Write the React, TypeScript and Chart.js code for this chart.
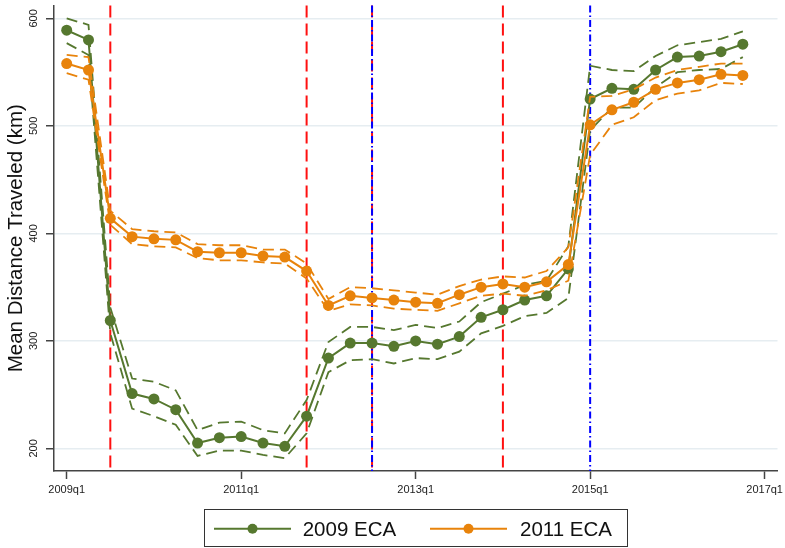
import React, { useEffect, useRef } from "react";
import { Chart, registerables } from "chart.js";

Chart.register(...registerables);

// Quarterly observation periods
const quarters = [
  "2009q1", "2009q2", "2009q3", "2009q4",
  "2010q1", "2010q2", "2010q3", "2010q4",
  "2011q1", "2011q2", "2011q3", "2011q4",
  "2012q1", "2012q2", "2012q3", "2012q4",
  "2013q1", "2013q2", "2013q3", "2013q4",
  "2014q1", "2014q2", "2014q3", "2014q4",
  "2015q1", "2015q2", "2015q3", "2015q4",
  "2016q1", "2016q2", "2016q3", "2016q4",
];

const xTickLabels = ["2009q1", "2011q1", "2013q1", "2015q1", "2017q1"];
const yTickValues = [200, 300, 400, 500, 600];

// 2009 ECA: mean distance and confidence bounds (km)
const eca2009 = [589, 580, 319, 251, 246, 236, 205, 210, 211, 205, 202, 230, 284, 298, 298, 295,
  300, 297, 304, 322, 329, 338, 342, 367, 525, 535, 534, 552, 564, 565, 569, 576];
const eca2009Upper = [600, 594, 331, 265, 262, 254, 217, 224, 225, 217, 214, 245, 299, 313, 313, 310,
  315, 312, 318, 336, 344, 352, 356, 388, 556, 552, 551, 565, 575, 578, 581, 588];
const eca2009Lower = [577, 566, 307, 237, 230, 222, 193, 198, 198, 194, 191, 214, 271, 282, 283, 279,
  284, 283, 290, 307, 314, 323, 326, 340, 496, 517, 517, 536, 550, 552, 553, 564];

// 2011 ECA: mean distance and confidence bounds (km)
const eca2011 = [558, 552, 414, 397, 395, 394, 383, 382, 382, 379, 378, 365, 333, 342, 340, 338,
  336, 335, 343, 350, 353, 350, 355, 371, 501, 515, 522, 534, 540, 543, 548, 547];
const eca2011Upper = [566, 564, 421, 404, 402, 401, 390, 389, 389, 385, 385, 372, 339, 350, 349, 347,
  345, 343, 351, 357, 360, 359, 365, 387, 527, 528, 534, 545, 552, 555, 558, 558];
const eca2011Lower = [549, 543, 408, 390, 388, 387, 377, 375, 375, 373, 372, 358, 328, 334, 333, 330,
  329, 328, 335, 342, 344, 342, 347, 356, 473, 501, 508, 524, 530, 533, 540, 539];

// Reference periods marked with vertical lines
const redLineQuarters = ["2009q3", "2011q4", "2012q3", "2014q1"];
const blueLineQuarters = ["2012q3", "2015q1"];

const GREEN = "#56782f";
const ORANGE = "#e8830b";
const AXIS = "#444444";
const FONT = "'Liberation Sans', Arial, sans-serif";

function quarterIndex(label: string): number {
  const year = parseInt(label.slice(0, 4), 10);
  const q = parseInt(label.slice(5), 10);
  return (year - 2009) * 4 + (q - 1);
}

function toPoints(values: number[]) {
  return values.map((v, i) => ({ x: quarterIndex(quarters[i]), y: v }));
}

const referenceLines = {
  id: "referenceLines",
  beforeDatasetsDraw(chart: any) {
    const { ctx, chartArea, scales } = chart;
    const xs = scales.x;
    const draw = (labels: string[], color: string, dash: number[]) => {
      labels.forEach((l) => {
        const px = xs.getPixelForValue(quarterIndex(l));
        ctx.save();
        ctx.strokeStyle = color;
        ctx.lineWidth = 2;
        ctx.setLineDash(dash);
        ctx.beginPath();
        ctx.moveTo(px, chartArea.top);
        ctx.lineTo(px, chartArea.bottom);
        ctx.stroke();
        ctx.restore();
      });
    };
    draw(redLineQuarters, "#ff1010", [12, 6]);
    draw(blueLineQuarters, "#0000ff", [7, 3, 1.5, 3]);
  },
};

const textLayer = {
  id: "textLayer",
  afterDraw(chart: any) {
    const { ctx, chartArea, scales } = chart;
    const xs = scales.x;
    const ys = scales.y;

    ctx.save();
    ctx.fillStyle = "#222";
    ctx.font = `11px ${FONT}`;
    ctx.textBaseline = "alphabetic";
    ctx.textAlign = "center";
    // y tick labels, rotated
    yTickValues.forEach((v) => {
      const py = ys.getPixelForValue(v);
      ctx.save();
      ctx.translate(36.5, py);
      ctx.rotate(-Math.PI / 2);
      ctx.fillText(String(v), 0, 0);
      ctx.restore();
    });
    // x tick labels
    xTickLabels.forEach((l) => {
      const px = xs.getPixelForValue(quarterIndex(l));
      ctx.fillText(l, px, 493);
    });

    // y axis title
    ctx.fillStyle = "#111";
    ctx.font = `20.5px ${FONT}`;
    ctx.save();
    ctx.translate(21.5, (chartArea.top + chartArea.bottom) / 2);
    ctx.rotate(-Math.PI / 2);
    ctx.fillText("Mean Distance Traveled (km)", 0, 0);
    ctx.restore();

    // legend
    ctx.strokeStyle = "#333";
    ctx.lineWidth = 1;
    ctx.strokeRect(204.5, 509.5, 423, 37);
    const items = [
      { color: GREEN, x0: 214, x1: 291, label: "2009 ECA", tx: 302.7 },
      { color: ORANGE, x0: 430, x1: 507, label: "2011 ECA", tx: 520 },
    ];
    const ly = 528.7;
    items.forEach((it) => {
      ctx.strokeStyle = it.color;
      ctx.lineWidth = 2;
      ctx.beginPath();
      ctx.moveTo(it.x0, ly);
      ctx.lineTo(it.x1, ly);
      ctx.stroke();
      ctx.fillStyle = it.color;
      ctx.beginPath();
      ctx.arc((it.x0 + it.x1) / 2, ly, 5, 0, Math.PI * 2);
      ctx.fill();
      ctx.fillStyle = "#111";
      ctx.textAlign = "left";
      ctx.fillText(it.label, it.tx, 536.3);
    });
    ctx.restore();
  },
};

export default function App() {
  const canvasRef = useRef<HTMLCanvasElement | null>(null);

  useEffect(() => {
    const canvas = canvasRef.current;
    if (!canvas) return;

    const mainLine = (label: string, values: number[], color: string, order: number) => ({
      label,
      data: toPoints(values),
      borderColor: color,
      backgroundColor: color,
      borderWidth: 2,
      pointRadius: 5.5,
      pointBorderWidth: 0,
      pointBackgroundColor: color,
      tension: 0,
      order,
    });
    const bandLine = (label: string, values: number[], color: string, order: number) => ({
      label,
      data: toPoints(values),
      borderColor: color,
      borderWidth: 1.8,
      borderDash: [11, 6],
      pointRadius: 0,
      tension: 0,
      order,
    });

    const chart = new Chart(canvas, {
      type: "line",
      data: {
        datasets: [
          mainLine("2011 ECA", eca2011, ORANGE, 0),
          bandLine("2011 ECA upper", eca2011Upper, ORANGE, 1),
          bandLine("2011 ECA lower", eca2011Lower, ORANGE, 1),
          mainLine("2009 ECA", eca2009, GREEN, 2),
          bandLine("2009 ECA upper", eca2009Upper, GREEN, 3),
          bandLine("2009 ECA lower", eca2009Lower, GREEN, 3),
        ] as any,
      },
      options: {
        animation: false,
        responsive: false,
        devicePixelRatio: 1,
        layout: { padding: { top: 3, right: 7.5, left: 0, bottom: 0 } },
        plugins: {
          legend: { display: false },
          tooltip: { enabled: false },
        },
        scales: {
          x: {
            type: "linear",
            min: -0.582,
            max: 32.59,
            afterBuildTicks: (scale: any) => {
              scale.ticks = xTickLabels.map((l) => ({ value: quarterIndex(l) }));
            },
            afterFit: (scale: any) => {
              scale.height = 77;
            },
            ticks: { display: false },
            grid: {
              drawOnChartArea: false,
              drawTicks: true,
              tickLength: 8,
              tickColor: AXIS,
              tickWidth: 1.5,
            },
            border: { color: AXIS, width: 1.5 },
          },
          y: {
            type: "linear",
            min: 179,
            max: 612,
            afterBuildTicks: (scale: any) => {
              scale.ticks = yTickValues.map((v) => ({ value: v }));
            },
            afterFit: (scale: any) => {
              scale.width = 54;
            },
            ticks: { display: false },
            grid: {
              color: "#e6edf1",
              lineWidth: 1.5,
              drawTicks: true,
              tickLength: 8,
              tickColor: AXIS,
              tickWidth: 1.5,
            },
            border: { color: AXIS, width: 1.5 },
          },
        },
      },
      plugins: [referenceLines, textLayer],
    });

    return () => chart.destroy();
  }, []);

  return (
    <div style={{ position: "fixed", left: 0, top: 0, width: 785, height: 548, background: "#fff" }}>
      <canvas ref={canvasRef} width={785} height={548} />
    </div>
  );
}
